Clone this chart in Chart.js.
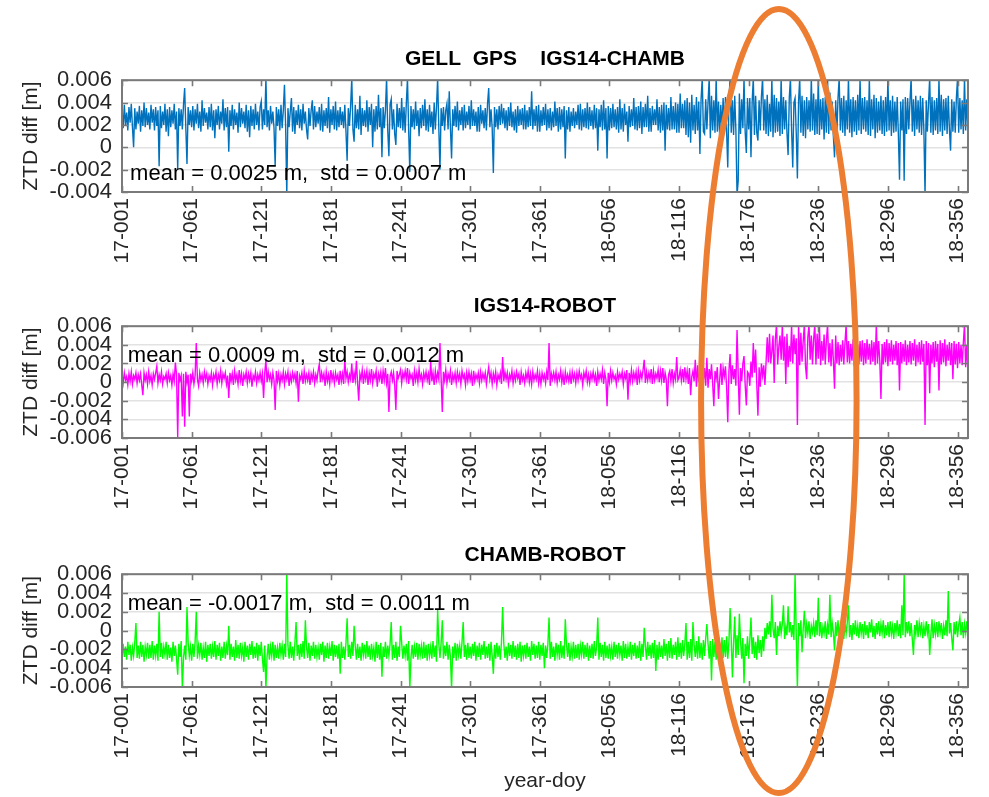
<html>
<head>
<script src="https://cdn.jsdelivr.net/npm/chart.js"></script>
<style>
  body { margin: 0; background: #fff; }
  #wrap { position: relative; width: 989px; height: 797px; }
  canvas { position: absolute; left: 0; }
</style>
</head>
<body>
<div id="wrap">
  <canvas id="p1" width="989" height="290" style="top:0"></canvas>
  <canvas id="p2" width="989" height="250" style="top:290px"></canvas>
  <canvas id="p3" width="989" height="257" style="top:540px"></canvas>
  <canvas id="ring" width="989" height="797" style="top:0;pointer-events:none"></canvas>
</div>

<script>
// one sample per day, starting 17-001; values in mm
const DAY_STEP = 1;

const xTickDays = [0, 60, 120, 180, 240, 300, 360, 420, 480, 540, 600, 660, 720];
const xTickLabels = ['17-001', '17-061', '17-121', '17-181', '17-241', '17-301', '17-361',
  '18-056', '18-116', '18-176', '18-236', '18-296', '18-356'];

const yTicksTop = [-0.004, -0.002, 0, 0.002, 0.004, 0.006];
const yTicksLow = [-0.006, -0.004, -0.002, 0, 0.002, 0.004, 0.006];

const titles = ['GELL  GPS    IGS14-CHAMB', 'IGS14-ROBOT', 'CHAMB-ROBOT'];
const notes = ['mean = 0.0025 m,  std = 0.0007 m', 'mean = 0.0009 m,  std = 0.0012 m', 'mean = -0.0017 m,  std = 0.0011 m'];

// IGS14-CHAMB
const chambMm = [
  3.4,1.7,3.8,2.0,3.1,1.5,3.6,2.2,3.9,1.8,0.0,3.5,1.6,3.2,2.1,3.7,1.4,3.3,1.9,4.0,
  1.8,3.5,2.0,3.1,1.6,3.8,2.2,3.4,1.5,3.6,1.9,3.3,-1.7,3.7,1.7,3.2,2.0,3.9,1.4,3.4,
  1.0,3.6,1.8,3.3,2.1,3.9,1.6,3.2,-2.0,3.5,1.9,3.4,1.6,3.8,5.3,1.7,-1.5,3.6,2.0,3.3,
  1.8,3.7,1.5,3.4,2.1,3.9,1.7,3.2,1.4,4.2,1.9,3.5,2.2,3.1,1.6,3.6,1.8,3.9,1.5,3.3,
  0.8,3.4,2.0,3.7,1.6,3.2,2.1,4.3,1.5,3.5,1.8,3.6,-0.4,3.3,1.9,3.8,1.6,3.4,2.0,3.1,
  1.3,4.0,1.8,3.5,2.1,3.2,1.7,3.8,1.4,3.3,0.9,3.7,1.9,3.4,1.6,3.9,2.0,3.2,1.5,3.6,
  4.1,1.6,3.4,2.0,6.2,1.8,3.3,1.5,3.7,2.1,3.2,1.7,-1.7,3.6,1.9,3.4,1.5,3.8,1.7,3.3,
  5.6,1.9,-4.3,3.5,1.8,3.2,4.4,1.4,3.6,1.2,3.3,2.0,3.8,1.7,3.4,1.5,3.9,2.1,3.2,1.6,
  0.7,3.5,1.9,3.3,4.2,1.6,3.7,1.8,3.2,2.1,3.6,1.5,3.9,1.4,3.3,1.9,3.5,1.7,4.5,1.3,
  3.4,2.0,3.7,1.6,4.1,1.5,3.3,1.8,3.6,2.0,3.2,1.7,3.8,1.4,-1.2,3.5,1.9,3.7,6.2,1.6,
  0.5,3.8,1.7,3.4,1.6,4.6,1.1,3.5,1.9,3.3,1.8,4.2,1.4,3.6,2.0,3.9,0.0,3.4,1.4,3.7,
  1.6,4.7,1.8,3.5,-0.9,3.6,1.7,3.3,6.2,1.5,-0.8,3.8,4.3,1.6,3.4,1.2,0.2,3.9,1.8,3.5,
  1.7,4.4,1.5,3.6,1.3,3.9,6.2,1.6,-2.2,3.7,1.8,3.4,1.6,4.1,1.9,3.3,1.0,3.5,1.7,3.8,
  1.9,4.3,1.5,3.4,1.4,3.8,1.8,3.2,1.2,4.0,1.6,3.6,6.2,1.7,-2.0,3.5,1.9,3.6,1.5,3.3,
  3.9,1.6,5.0,1.8,-1.0,3.4,1.9,3.7,1.8,4.1,1.5,3.3,2.0,3.6,1.5,3.8,1.7,3.2,2.0,3.7,
  1.6,4.2,1.9,3.4,1.9,3.2,1.4,3.6,1.4,3.8,2.1,3.3,1.7,3.5,1.5,3.9,5.3,1.8,3.4,1.7,
  -2.3,3.6,1.8,3.4,1.6,3.7,2.0,3.9,2.1,3.5,1.7,3.3,1.5,3.6,1.9,4.0,1.8,3.2,1.5,3.4,
  1.3,3.7,1.9,3.4,2.0,3.5,1.6,3.8,1.6,3.3,1.8,3.6,1.9,5.0,1.6,3.4,1.9,3.7,1.4,3.8,
  1.4,3.3,1.9,3.6,2.0,3.9,1.5,3.4,1.7,3.5,1.5,3.2,1.8,4.1,1.9,3.5,1.4,3.6,1.6,3.4,
  1.8,3.7,-1.0,3.3,1.6,3.6,1.4,3.2,1.9,3.5,1.7,3.2,2.0,3.8,1.6,3.9,1.5,3.4,1.8,3.5,
  1.7,4.0,1.6,3.6,1.9,3.3,1.6,3.8,1.7,3.5,-0.3,3.4,1.8,3.8,1.5,4.2,1.6,3.5,-1.0,3.7,
  1.5,3.5,1.7,3.9,1.8,3.4,1.6,3.6,1.3,4.3,1.6,3.5,1.4,3.9,2.0,3.2,0.5,3.7,1.8,3.4,
  1.9,4.4,1.6,3.6,1.5,3.7,1.7,4.1,1.2,3.6,1.8,3.9,1.8,4.6,1.4,3.5,1.4,3.7,2.0,3.4,
  2.0,4.3,1.5,3.6,1.3,3.8,1.5,4.0,-0.3,3.8,1.6,3.5,1.5,4.5,1.6,3.7,1.6,4.0,1.3,3.9,
  1.3,4.8,1.7,3.9,1.7,4.2,1.1,4.4,0.9,4.0,0.4,4.7,1.5,3.8,1.2,4.5,1.5,4.1,-0.6,4.3,
  6.2,1.4,1.2,4.3,1.6,4.0,6.2,0.8,4.6,1.5,4.2,1.3,6.2,1.4,4.1,1.0,3.8,1.6,4.4,1.2,
  4.5,1.4,-1.8,4.2,6.2,1.3,4.2,1.1,4.6,1.5,-4.3,-3.0,4.8,1.2,4.3,1.7,6.2,1.4,-0.5,4.4,
  1.6,4.4,-0.9,4.0,6.2,1.1,4.6,1.3,0.6,4.2,1.5,4.5,6.2,1.5,4.3,1.2,4.7,1.0,3.9,1.4,
  6.2,0.9,4.7,1.3,4.4,1.4,4.1,1.0,6.2,1.2,4.5,1.6,4.2,1.3,-0.7,4.4,6.2,1.5,-1.8,4.0,
  4.4,1.3,-2.8,4.1,6.2,1.3,4.6,1.0,4.2,0.8,4.5,1.6,4.2,1.4,6.2,1.5,4.8,1.1,4.3,1.2,
  6.2,1.1,4.3,1.6,4.4,0.7,4.5,1.3,6.2,1.2,4.9,1.5,4.1,1.0,-0.9,4.2,1.2,4.4,6.2,1.5,
  4.4,1.3,4.6,1.0,4.2,1.6,6.2,1.3,4.3,0.9,4.5,1.4,4.2,1.1,4.7,1.5,6.2,1.2,4.4,1.6,
  4.5,1.4,4.2,1.1,6.2,1.0,4.3,1.6,4.7,0.8,4.4,1.3,4.1,1.5,4.6,1.2,4.2,1.0,4.5,1.4,
  6.2,1.5,4.2,1.0,4.6,1.3,4.1,1.4,4.5,1.2,-2.9,4.1,1.5,4.3,-3.0,4.5,1.2,4.4,1.6,4.1,
  6.2,1.4,4.3,1.0,4.6,1.6,4.2,1.3,4.6,1.1,4.4,1.5,-4.3,4.2,1.4,4.0,6.2,1.3,4.5,1.1,
  4.2,1.5,4.4,1.2,6.2,1.4,4.7,1.0,4.3,1.5,4.4,1.2,4.6,1.6,-0.3,4.3,1.4,4.1,1.3,4.4,
  6.2,1.3,4.4,1.6,4.2,1.2,6.2,1.5,4.3,1.6
];

// IGS14-ROBOT
const robotMm = [
  0.8,-0.1,1.0,0.2,0.6,-0.3,0.9,0.1,1.1,-0.2,0.7,0.3,1.0,-0.1,0.8,0.2,0.9,-0.3,-1.4,1.0,
  0.2,0.8,-0.2,1.1,0.1,0.7,-0.3,0.9,0.3,1.0,1.7,-0.1,0.8,0.2,1.1,-0.2,0.6,0.3,0.9,-0.1,
  1.0,0.2,0.7,-0.3,0.9,0.1,2.1,0.8,-5.9,1.0,0.2,0.7,-3.7,0.9,-4.8,1.1,0.0,0.8,-3.7,0.9,
  0.1,1.0,-0.2,0.7,4.2,0.3,-0.4,1.0,0.2,0.8,-0.1,1.1,0.3,0.9,-0.2,0.7,0.2,1.0,-0.3,0.8,
  0.3,1.1,-0.2,0.8,0.2,1.2,-0.1,0.9,0.4,1.0,-0.2,0.7,-1.7,1.0,0.1,0.9,-0.3,1.2,0.2,0.8,
  -0.2,1.3,0.1,0.9,-0.4,0.8,0.3,1.1,-0.1,0.9,0.2,1.0,-0.5,0.7,0.3,1.1,-0.1,0.8,0.2,1.0,
  0.1,0.9,-1.7,1.0,2.3,0.0,1.1,0.3,0.8,-0.2,1.0,0.2,-3.0,1.2,0.1,0.9,-0.3,0.8,0.2,1.1,
  -0.2,0.9,0.3,1.1,-0.4,0.8,0.1,1.0,0.3,0.9,-0.1,1.2,-2.1,0.7,0.3,1.0,-0.2,1.2,0.1,0.8,
  0.2,1.0,-0.3,0.9,0.3,1.1,-0.1,0.8,0.2,1.2,1.9,0.0,1.0,0.3,0.9,-0.4,1.1,0.1,0.8,-0.2,
  1.3,0.2,0.9,-0.1,1.0,0.3,0.8,-0.3,1.2,0.1,0.9,-0.2,2.4,0.4,1.1,0.0,0.8,0.3,2.0,-0.1,
  1.0,0.2,2.3,-0.1,-2.0,0.9,0.3,1.3,-0.2,1.0,0.3,1.2,-0.3,1.0,0.2,1.4,-0.1,0.9,0.4,1.2,
  -0.5,0.9,0.3,1.1,-0.2,1.2,0.2,1.5,-0.1,0.9,-3.2,0.6,1.1,0.2,1.0,-0.3,-3.0,1.2,0.4,0.8,
  1.3,-0.1,1.0,0.4,1.2,0.3,1.5,-0.2,1.0,0.4,0.8,-0.4,1.2,0.2,1.0,0.0,1.4,0.3,0.8,-0.2,
  1.0,0.3,1.1,0.2,0.9,-0.3,2.2,0.1,1.0,-0.3,1.2,0.2,1.0,0.3,4.2,0.4,-3.2,1.1,0.2,1.3,
  -0.1,0.9,0.3,1.2,-0.3,0.8,0.2,1.0,-0.1,1.1,0.3,0.9,-0.2,1.2,0.4,0.8,-0.3,1.0,0.1,1.1,
  0.2,0.9,-0.4,1.2,0.1,0.8,0.3,1.0,-0.1,1.1,0.2,0.9,0.3,1.0,-0.2,0.8,1.6,0.3,1.0,-0.2,
  0.9,0.2,1.1,-0.3,0.8,0.3,1.0,-0.2,2.7,0.1,1.1,0.3,1.0,-0.2,0.8,0.3,1.2,-0.1,0.9,0.2,
  1.1,0.4,0.9,-0.3,1.1,0.2,0.7,-0.1,1.0,0.3,1.2,0.0,0.9,-0.2,1.1,0.2,0.8,0.3,1.2,-0.1,
  0.9,-0.2,1.0,0.3,0.8,-0.1,1.1,0.2,4.2,-0.4,0.9,0.3,1.0,0.2,1.1,-0.1,0.8,0.3,1.2,0.0,
  0.9,-0.3,1.1,0.2,0.8,0.1,1.0,-0.2,1.1,0.3,0.9,-0.1,1.0,0.2,1.2,0.4,0.8,-0.3,1.0,0.4,
  1.2,0.0,0.8,-0.1,0.9,0.3,1.1,0.2,0.8,-0.4,1.1,0.2,0.9,0.3,1.3,-0.2,1.0,0.3,-2.6,1.0,
  0.0,1.2,0.2,1.0,0.3,0.7,-0.2,1.1,0.3,0.9,0.4,1.1,-0.2,0.9,0.4,1.3,-1.9,1.0,0.1,1.3,
  0.1,1.0,0.3,1.1,-0.3,1.2,0.2,1.0,0.4,1.3,2.4,-0.1,1.1,0.2,1.0,0.3,1.4,-0.2,1.2,0.2,
  0.9,0.4,1.3,0.0,1.2,0.2,1.5,-0.1,1.0,0.3,-2.6,0.8,1.2,0.1,1.4,-0.1,0.9,0.3,2.7,0.2,
  0.5,1.3,0.2,1.4,0.0,1.6,0.3,1.2,-0.2,1.5,-1.4,0.6,1.2,0.1,2.4,-0.5,1.8,0.0,1.2,-0.3,
  1.8,0.2,1.5,-0.4,2.6,-0.6,1.4,0.3,1.9,-0.2,-2.6,1.2,0.4,1.6,-1.8,0.2,2.0,-0.3,1.5,0.6,
  1.7,-0.5,-4.3,1.2,3.0,-0.2,1.8,0.3,1.4,-0.4,5.6,0.8,-3.5,1.5,0.1,2.0,2.8,-0.3,-2.5,1.1,
  0.9,-0.4,2.2,0.5,4.2,1.0,3.5,-0.2,-3.6,1.6,-0.5,2.0,0.7,1.8,-0.3,2.1,4.8,2.1,5.2,2.0,
  3.3,5.0,-0.1,4.6,6.2,1.9,3.8,5.0,2.4,6.2,2.3,4.9,-0.2,5.2,1.6,3.9,2.2,6.2,2.0,5.1,
  3.0,4.7,-4.6,6.2,1.8,5.3,2.2,4.4,6.2,1.7,0.3,4.8,6.2,2.4,5.0,1.9,4.6,6.2,1.9,5.2,
  2.5,6.2,1.8,4.4,2.3,5.1,1.9,4.5,6.2,2.1,4.2,1.7,4.6,2.4,-0.7,5.0,2.0,4.3,1.8,4.0,
  2.2,4.5,1.9,4.2,6.2,2.1,4.4,2.0,4.1,2.3,4.6,1.7,4.3,2.1,4.0,1.9,4.4,2.2,4.5,1.8,
  4.2,2.0,4.6,2.4,4.1,1.9,4.5,2.2,4.3,1.8,6.2,2.0,4.4,2.3,-1.8,4.1,1.9,4.3,2.1,4.6,
  1.7,4.2,2.2,4.5,1.9,4.0,2.3,4.4,1.8,4.2,-0.9,4.3,2.0,4.1,2.2,4.5,1.8,4.0,2.1,4.4,
  1.9,4.2,2.3,4.6,1.7,4.0,2.1,4.3,1.9,4.5,2.2,4.1,-4.6,4.4,1.8,4.2,-1.2,4.0,2.0,4.3,
  1.6,4.4,2.2,4.1,-0.9,4.5,1.9,4.2,2.1,4.6,1.7,4.0,2.3,4.3,1.8,4.2,0.3,4.4,1.9,4.1,
  1.5,4.3,2.0,4.0,1.8,4.2,6.2,1.6,4.0,1.2
];

// CHAMB-ROBOT
const chambRobotMm = [
  -3.0,-1.4,-2.8,-1.7,-3.1,-1.2,-2.6,-1.5,-3.2,-1.8,-2.7,-1.3,0.8,-2.9,-1.6,-3.0,-1.2,-2.8,-1.5,-3.3,
  -1.7,-2.6,-1.3,-3.0,-1.5,-2.9,-1.1,-3.1,-1.6,-2.7,-1.4,-3.2,2.0,-2.8,-1.3,-3.0,-1.7,-2.6,-1.2,-3.1,
  -1.5,-2.9,-1.8,-3.3,-1.2,-2.7,-1.6,-3.0,-4.7,-1.4,-2.8,-1.1,-6.2,-2.9,-1.6,-3.1,2.5,-1.3,-2.7,-1.7,
  -3.2,-1.4,-2.8,-1.2,2.0,-3.0,-1.6,-2.6,-1.3,-3.1,-1.8,-2.9,-1.2,-3.3,-1.5,-2.7,-1.4,-3.0,-1.7,-2.8,
  -1.1,-3.1,-1.5,-2.7,-1.3,-3.2,-1.7,-2.9,-1.2,-3.0,-1.6,-2.6,0.5,-3.1,-1.4,-2.8,-1.7,-3.2,-1.0,-2.9,
  -1.5,-3.0,-1.3,-2.7,-1.8,-3.3,-1.2,-2.8,-1.6,-3.1,-1.4,-2.6,-1.1,-3.0,-1.7,-2.9,-1.3,-3.2,-1.5,-2.7,
  -1.2,-3.0,-4.4,-1.6,-6.2,-2.8,-1.4,-3.1,-1.7,-2.7,-1.2,-3.2,-1.5,-2.9,-1.8,-3.0,-1.3,-2.6,-1.6,-3.1,
  -1.4,-2.8,6.2,-1.6,-3.0,-1.2,-2.9,-1.7,-3.2,-1.3,0.9,-2.7,-1.5,-3.1,-1.4,-2.8,-1.1,-3.0,1.1,-1.7,
  -2.9,-1.3,-3.2,-1.6,-2.7,-1.2,-3.0,-1.5,-2.8,-1.8,-3.1,-1.4,-2.6,-1.2,-3.3,-1.6,-2.9,-1.3,-3.0,-1.7,
  -2.7,-1.1,-3.2,-1.5,-2.8,-1.6,-3.0,-1.4,-4.6,-1.2,-2.9,-1.7,-3.1,-1.3,1.3,-2.8,-1.5,-3.0,-1.2,-2.7,
  0.5,-1.6,-3.1,-1.4,-2.9,-1.7,-3.2,-1.3,-2.6,-1.5,-3.0,-1.1,-2.8,-1.6,-3.1,-1.4,-2.7,-1.8,-3.3,-1.2,
  -2.9,-1.5,-3.1,-1.3,-4.9,-1.7,-2.8,-1.2,-3.0,-1.6,-2.7,-1.4,0.9,-3.1,-1.5,-2.9,-1.2,-3.2,-1.7,-2.8,
  0.5,-1.3,-3.0,-1.6,-2.7,-1.4,-3.2,-1.1,-6.2,-2.9,-1.5,-3.0,-1.7,-2.8,-1.3,-3.1,-1.4,-2.6,-1.6,-3.0,
  -1.2,-2.9,-1.5,-3.2,-1.4,-2.7,-1.7,-3.0,-1.1,-2.8,-1.6,-3.3,2.2,-1.4,-2.9,-1.3,1.1,-3.0,-1.6,-2.7,
  -1.2,-3.1,-1.5,-2.8,-6.2,-1.7,-2.9,-1.3,-3.2,-1.4,-2.6,-1.6,-3.0,-1.2,0.9,-2.8,-1.5,-3.1,-1.3,-2.9,
  -1.7,-3.0,-1.4,-2.7,-1.2,-3.2,-1.6,-2.8,-1.3,-3.1,-1.5,-2.6,-1.1,-3.0,-1.7,-2.9,-1.4,-3.2,-1.2,-2.7,
  -4.6,-1.5,-3.0,-1.3,-2.8,-1.6,-3.1,-1.2,2.5,-1.4,-2.9,-1.7,-3.2,-1.3,-2.7,-1.5,-3.0,-1.1,-2.8,-1.6,
  -3.1,-1.4,-2.9,-1.2,-3.3,-1.6,-2.7,-1.5,-3.0,-1.3,-2.8,-1.7,-3.2,-1.1,-2.6,-1.4,-3.0,-1.6,-2.9,-1.2,
  -3.1,-1.5,-2.7,-1.3,-4.0,-1.6,-2.9,-1.4,1.4,-3.0,-1.2,-2.8,-1.7,-3.2,-1.3,-2.6,-1.5,-3.1,-1.1,-2.9,
  -1.6,-3.0,1.2,-1.4,-2.8,-1.3,-3.2,-1.7,-2.7,-1.2,-3.0,-1.5,-2.9,-1.4,-3.1,-1.6,-2.6,-1.2,-3.0,-1.5,
  -2.8,-1.3,-3.2,-1.6,-2.9,-1.4,-3.0,-1.1,-2.7,-1.7,1.4,-3.1,-1.3,-2.8,-1.5,-3.2,-1.2,-2.9,-1.6,-3.0,
  -1.4,-2.7,-1.7,-3.1,-1.2,-2.8,-1.5,-3.0,-1.3,-2.6,-1.6,-3.2,-1.1,-2.9,-1.4,-3.0,-1.7,-2.8,-1.2,-3.1,
  -1.5,-2.7,-1.3,-3.0,-1.6,-2.9,-1.1,-3.2,-1.4,-2.8,0.3,-1.6,-3.1,-1.2,-2.7,-1.5,-3.0,-1.3,-2.9,-1.0,
  -4.3,-1.5,-3.1,-1.2,-2.8,-1.6,-3.0,-0.9,-2.7,-1.4,-3.2,-1.1,-2.9,-0.8,-3.0,-1.5,-2.6,-1.2,-3.1,-0.7,
  -2.8,-1.3,-3.0,-1.0,-2.7,-1.4,0.8,-3.1,-1.2,-2.9,-0.9,-3.2,0.9,-1.5,-2.8,-1.1,-3.0,-0.6,-2.9,-1.3,
  -3.1,-1.0,-2.7,-0.8,0.7,-1.4,-3.0,-1.1,-5.3,-0.9,-2.8,-1.2,-3.1,-0.5,-2.6,-1.3,-3.2,-0.7,-2.9,-1.0,
  -2.8,-0.6,-3.0,-1.2,2.4,-0.9,-5.0,-1.3,1.5,-2.9,-0.5,-2.6,1.8,-1.1,-3.0,-0.8,-5.6,-1.4,-2.7,-0.6,
  -3.0,-1.0,1.4,-2.5,-0.7,-2.9,-1.2,-3.1,-0.5,-2.4,-1.0,-2.8,-0.6,-2.2,0.3,-0.9,0.8,-0.4,1.0,-0.7,
  3.8,0.2,-0.8,0.9,-2.6,0.5,-0.6,1.0,-0.3,0.7,2.7,-0.9,0.4,-0.5,2.6,-0.2,0.9,-0.7,0.6,-1.0,
  6.2,-0.4,-6.2,0.8,-0.6,1.1,-2.3,0.2,2.1,-0.8,0.7,-0.3,1.0,-0.9,0.5,-0.2,0.8,-0.7,1.1,-0.5,
  3.5,-0.6,0.9,-0.8,0.4,-0.3,1.0,-0.9,0.6,-0.4,3.8,-0.7,0.8,-0.2,-2.1,0.9,-0.6,1.1,-0.8,0.4,
  -0.5,1.0,-0.9,0.7,-0.3,0.9,2.7,-0.7,0.6,-1.0,0.8,-0.4,1.1,-0.6,0.5,-0.8,0.9,-0.3,0.7,-0.9,
  1.0,-0.5,0.6,-0.8,0.9,-0.2,1.2,-0.7,0.5,-0.9,0.8,-0.4,1.0,-0.6,0.7,-0.3,1.1,-0.8,0.6,-0.5,
  0.9,-0.7,1.0,-0.4,0.5,-0.9,0.8,-0.2,1.1,-0.6,0.7,-0.8,2.7,-0.5,6.2,-0.7,0.9,-0.3,1.0,-0.6,
  0.8,-0.9,-2.6,0.6,-0.4,1.1,-0.7,0.8,-0.2,0.9,-0.8,0.5,-0.6,1.0,-0.3,0.7,-2.6,-0.5,1.2,-0.8,
  0.6,-0.4,0.9,-0.7,1.0,-0.2,0.8,-0.9,0.5,-0.5,1.1,-0.6,4.2,-0.3,0.8,-0.8,-2.1,0.9,-0.4,1.0,
  -0.7,0.6,1.4,-0.5,0.9,-0.8,0.7,-0.3,1.0,-0.4
];

const FONT = "'Liberation Sans', Arial, Helvetica, sans-serif";
const INK = '#262626';
const FRAME = '#7a7a7a';

// frame, inward tick marks and the mean/std note, MATLAB style
const matlabAxes = {
  id: 'matlabAxes',
  afterDatasetsDraw(chart, args, opts) {
    const { ctx, chartArea: a, scales: { x, y } } = chart;
    ctx.save();
    ctx.strokeStyle = FRAME;
    ctx.lineWidth = 1.6;
    ctx.beginPath();
    xTickDays.forEach(d => {
      const px = Math.round(x.getPixelForValue(d)) + 0.5;
      ctx.moveTo(px, a.top); ctx.lineTo(px, a.top + 6);
      ctx.moveTo(px, a.bottom); ctx.lineTo(px, a.bottom - 6);
    });
    y.ticks.forEach(t => {
      const py = Math.round(y.getPixelForValue(t.value)) + 0.5;
      ctx.moveTo(a.left, py); ctx.lineTo(a.left + 6, py);
      ctx.moveTo(a.right, py); ctx.lineTo(a.right - 6, py);
    });
    ctx.stroke();
    ctx.lineWidth = 2;
    ctx.strokeRect(a.left, a.top, a.right - a.left, a.bottom - a.top);

    ctx.fillStyle = '#000';
    ctx.font = '22px ' + FONT;
    ctx.textBaseline = 'middle';
    ctx.textAlign = 'left';
    ctx.fillText(opts.text, x.getPixelForValue(opts.day), y.getPixelForValue(opts.value));
    ctx.restore();
  }
};

function makePanel(id, title, valuesMm, color, yTicks, note, titlePad, axisHeight, xTitle) {
  const points = valuesMm.map((v, i) => ({ x: i * DAY_STEP, y: v / 1000 }));
  return new Chart(document.getElementById(id), {
    type: 'line',
    data: {
      datasets: [{
        data: points,
        borderColor: color,
        borderWidth: 1.4,
        pointRadius: 0,
        tension: 0,
        clip: 0
      }]
    },
    options: {
      animation: false,
      responsive: false,
      devicePixelRatio: 1,
      layout: { padding: { left: 0, right: 12, top: 0, bottom: 0 } },
      scales: {
        x: {
          type: 'linear',
          min: 0,
          max: 729,
          afterBuildTicks: s => { s.ticks = xTickDays.map(v => ({ value: v })); },
          afterFit: s => { s.height = axisHeight; },
          ticks: {
            autoSkip: false,
            minRotation: 90,
            maxRotation: 90,
            padding: 6,
            color: INK,
            font: { family: FONT, size: 21 },
            callback: (v, i) => xTickLabels[i]
          },
          grid: { display: false, drawTicks: false },
          border: { display: false },
          title: {
            display: !!xTitle,
            text: xTitle || '',
            color: INK,
            font: { family: FONT, size: 21 },
            padding: { top: 0, bottom: 3 }
          }
        },
        y: {
          min: yTicks[0],
          max: yTicks[yTicks.length - 1],
          afterBuildTicks: s => { s.ticks = yTicks.map(v => ({ value: v })); },
          afterFit: s => { s.width = 122; },
          ticks: {
            autoSkip: false,
            padding: 10,
            color: INK,
            font: { family: FONT, size: 22 },
            callback: v => (v === 0 ? '0' : v.toFixed(3))
          },
          grid: { color: '#e2e2e2', lineWidth: 1.5, drawTicks: false },
          border: { display: false },
          title: {
            display: true,
            text: 'ZTD diff [m]',
            color: INK,
            font: { family: FONT, size: 21 },
            padding: { top: 19, bottom: 0 }
          }
        }
      },
      plugins: {
        legend: { display: false },
        tooltip: { enabled: false },
        title: {
          display: true,
          text: title,
          fullSize: false,
          color: '#000',
          font: { family: FONT, size: 21, weight: 'bold' },
          padding: titlePad
        },
        matlabAxes: note
      }
    },
    plugins: [matlabAxes]
  });
}

makePanel('p1', titles[0], chambMm, '#0072BD', yTicksTop,
  { text: notes[0], day: 7, value: -0.0024 }, { top: 47, bottom: 8 }, 98, null);
makePanel('p2', titles[1], robotMm, '#FF00FF', yTicksLow,
  { text: notes[1], day: 5, value: 0.0028 }, { top: 4, bottom: 7 }, 102, null);
const last = makePanel('p3', titles[2], chambRobotMm, '#00FF00', yTicksLow,
  { text: notes[2], day: 5, value: 0.0028 }, { top: 3, bottom: 6 }, 110, 'year-doy');

// orange highlight ring around the 2018 step, centred on the x scale
const ring = document.getElementById('ring').getContext('2d');
const xs = last.scales.x;
const cx = xs.getPixelForValue(566);
const rx = xs.getPixelForValue(633) - cx;
ring.strokeStyle = '#ED7D31';
ring.lineWidth = 6;
ring.beginPath();
ring.ellipse(cx, 401, rx, 392, 0, 0, Math.PI * 2);
ring.stroke();
</script>
</body>
</html>
